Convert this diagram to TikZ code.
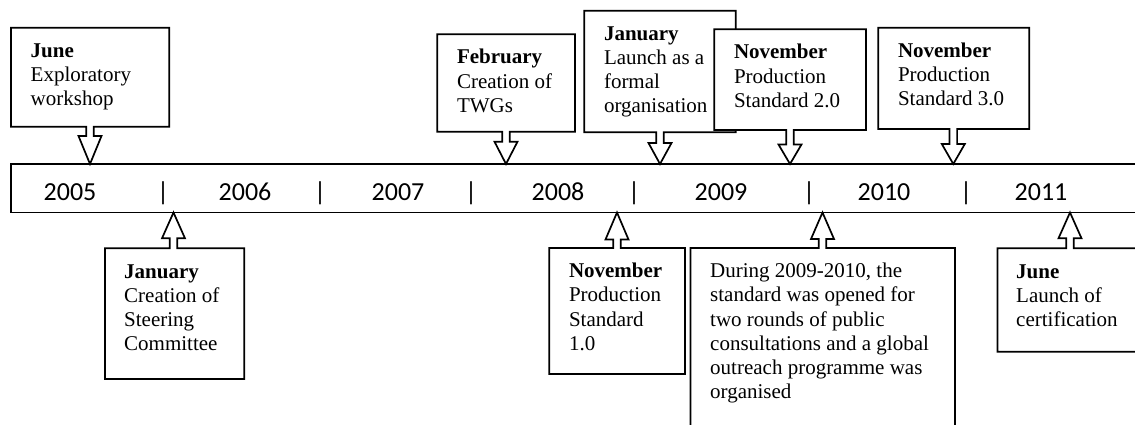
\documentclass[tikz,border=0pt]{standalone}
\usepackage{fontspec}
\setmainfont{Liberation Serif}
\newfontfamily\yearfont{Carlito}

% arrow callout pointing down to the time bar: x1 y1 x2 y2 tipx headbase-y
\newcommand\calldown[6]{%
  \draw[panel] (#1,#2) -- (#3,#2) -- (#3,#4) -- ({#5+3.8},#4) -- ({#5+3.8},#6)
    -- ({#5+11.5},#6) -- (#5,164) -- ({#5-11.5},#6) -- ({#5-3.8},#6)
    -- ({#5-3.8},#4) -- (#1,#4) -- cycle;}
% arrow callout pointing up to the time bar: x1 y1 x2 y2 tipx headbase-y
\newcommand\callup[6]{%
  \draw[panel] (#1,#2) -- ({#5-3.8},#2) -- ({#5-3.8},#6) -- ({#5-11.5},#6)
    -- (#5,212.5) -- ({#5+11.5},#6) -- ({#5+3.8},#6) -- ({#5+3.8},#2)
    -- (#3,#2) -- (#3,#4) -- (#1,#4) -- cycle;}
\newcommand\firstline{\rule{0pt}{16pt}}

\begin{document}
\begin{tikzpicture}[x=1pt,y=-1pt,
  panel/.style={draw=black, fill=white, line width=1.7pt, line join=miter},
  bar/.style={draw=black, line width=1.2pt},
  label/.style={anchor=north west, inner sep=0pt, align=left,
    font=\fontsize{21}{24.2}\selectfont},
  year/.style={anchor=base, inner sep=0pt,
    font=\yearfont\fontsize{26}{30}\selectfont}]
\useasboundingbox (0,0) rectangle (1135,425);
\begin{scope}
\clip (0,0) rectangle (1135,425);

% time bar
\draw[bar] (11,164) rectangle (1160,212.5);
\node[year] (y2005) at (70,200)  {2005};
\node[year] (s1)    at (163,200) {|};
\node[year] (y2006) at (245,200) {2006};
\node[year] (s2)    at (320,200) {|};
\node[year] (y2007) at (398,200) {2007};
\node[year] (s3)    at (471,200) {|};
\node[year] (y2008) at (558,200) {2008};
\node[year] (s4)    at (634,200) {|};
\node[year] (y2009) at (721,200) {2009};
\node[year] (s5)    at (809,200) {|};
\node[year] (y2010) at (884,200) {2010};
\node[year] (s6)    at (966,200) {|};
\node[year] (y2011) at (1041,200) {2011};

% events above the bar
\calldown{11}{27.7}{169.3}{126.7}{90}{136}
\node[label] (jun05) at (30.5,41.2) {\firstline\textbf{June}\\Exploratory\\workshop};

\calldown{437.3}{34.3}{575}{131.7}{506}{141.7}
\node[label] (feb08) at (456.8,47.8) {\firstline\textbf{February}\\Creation of\\TWGs};

\calldown{584.3}{10.7}{735.7}{132.3}{660}{143}
\node[label] (jan09) at (603.8,24.2) {\firstline\textbf{January}\\Launch as a\\formal\\organisation};

\calldown{714.3}{29.3}{866}{130}{790}{144.5}
\node[label] (nov09) at (733.8,42.8) {\firstline\textbf{November}\\Production\\Standard 2.0};

\calldown{878.3}{27.7}{1029.3}{129}{953.3}{144}
\node[label] (nov10) at (897.8,41.2) {\firstline\textbf{November}\\Production\\Standard 3.0};

% events below the bar
\callup{105}{248.3}{244.3}{379}{173.5}{238.3}
\node[label] (jan06) at (124,261.8) {\firstline\textbf{January}\\Creation of\\Steering\\Committee};

\callup{549.3}{248}{685}{374}{617}{239.5}
\node[label] (nov08) at (568.8,261.5) {\firstline\textbf{November}\\Production\\Standard\\1.0};

\callup{690.5}{248}{955}{445}{822.5}{239}
\node[label] (cons) at (710,261.5) {\firstline During 2009-2010, the\\standard was opened for\\two rounds of public\\consultations and a global\\outreach programme was\\organised};

\callup{997.5}{248.3}{1160}{351.7}{1070}{238.3}
\node[label] (jun11) at (1016,261.8) {\firstline\textbf{June}\\Launch of\\certification};
\end{scope}
\end{tikzpicture}
\end{document}
